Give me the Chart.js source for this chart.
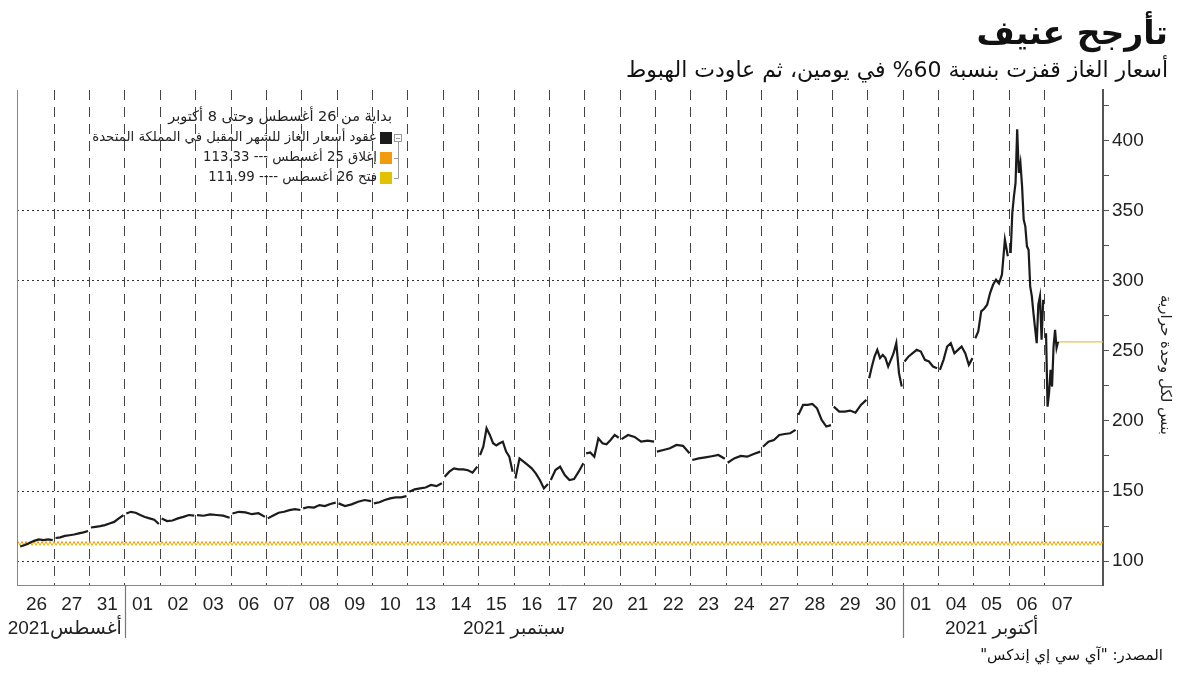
<!DOCTYPE html>
<html lang="ar">
<head>
<meta charset="utf-8">
<script src="https://cdn.jsdelivr.net/npm/chart.js@4.4.0/dist/chart.umd.min.js"></script>
<style>
  html, body { margin: 0; padding: 0; background: #fff; }
  #wrap { position: relative; width: 1200px; height: 675px; }
  #wrap canvas { position: absolute; left: 0; top: 0; }
  .txt { position: absolute; direction: rtl; white-space: nowrap; color: #111; font-family: 'DejaVu Sans', sans-serif; }
  #title { right: 32px; top: 9px; font-size: 33px; font-weight: bold; line-height: 48px; }
  #subtitle { right: 32px; top: 55px; font-size: 22px; line-height: 30px; }
  #source { right: 37px; top: 645px; font-size: 15px; line-height: 20px; }
</style>
</head>
<body>
<div id="wrap">
  <canvas id="chart" width="1200" height="675"></canvas>
  <div class="txt" id="title">تأرجح عنيف</div>
  <div class="txt" id="subtitle">أسعار الغاز قفزت بنسبة 60% في يومين، ثم عاودت الهبوط</div>
  <div class="txt" id="source">المصدر: "آي سي إي إندكس"</div>
</div>
<script>
// trading days shown on the axis
const dayLabels = ['26', '27', '31', '01', '02', '03', '06', '07', '08', '09', '10', '13', '14', '15', '16',
  '17', '20', '21', '22', '23', '24', '27', '28', '29', '30', '01', '04', '05', '06', '07'];

// month names and the day indexes they cover
const monthNames = ['أغسطس2021', 'سبتمبر 2021', 'أكتوبر 2021'];
const monthFrom = [0, 3, 25];
const monthTo = [3, 25, 30];

// intraday prices (pence per therm), one list per trading day
const dayValues = [
  [110.5, 111.5, 113, 114.5, 115.5, 115, 115.5, 115],
  [116.5, 117, 118, 118.5, 119, 119.8, 120.5, 121.5],
  [124, 124.5, 125, 125.7, 126.9, 128, 130.5, 132.9],
  [134, 135.2, 134.5, 132.9, 131.5, 130.5, 129.5, 126.5],
  [130.5, 128.6, 129, 130.5, 131.6, 132.9, 132.5],
  [132.8, 132.4, 133.3, 132.9, 132.5, 131],
  [134, 135.2, 134.8, 133.5, 134.2, 131.6],
  [130.5, 132.5, 134.5, 135.2, 136.4, 137.1, 136.5],
  [137.6, 138.6, 138.2, 140, 139.3, 140.8, 141.7],
  [141.2, 139.3, 140.5, 142.4, 143.6, 142.8],
  [141.2, 142, 143.6, 144.8, 145.5, 145.5, 146.4],
  [149.5, 151.2, 151.9, 152.5, 154.3, 153.5, 155.5],
  [160.2, 163.8, 166.2, 165.5, 165.5, 164.8, 163.1, 167.4],
  [175.7, 181.6, 194.8, 190, 184.1, 182.5, 184.1, 185.2, 178.1, 174.5, 163.8],
  [159, 173.3, 171, 168.6, 166.2, 162.6, 157.9, 151.9, 155],
  [157.9, 165, 167.4, 161.4, 157.9, 158.6, 163.8, 169.8],
  [176.9, 177.5, 174.5, 187.6, 184.1, 183.4, 186.4, 190, 188],
  [187, 190, 188.6, 185.2, 186, 185.2],
  [178.1, 179.3, 180.5, 182.9, 182.2, 176.9],
  [172.1, 173.3, 174, 174.8, 175.7, 173],
  [170.2, 173.3, 175, 174.5, 176.4, 178.1],
  [181.6, 185.2, 186.4, 190, 190.7, 191.2, 193.6],
  [204.3, 211.4, 211.4, 212.1, 209, 200.7, 196, 197],
  [210.2, 206.7, 206.7, 207.4, 205.9, 211.4, 215],
  [230.5, 238.8, 246, 250.7, 244.8, 247.1, 244.8, 238.8, 243.6, 248.3, 255.5, 234, 224.5],
  [242.4, 246, 248.3, 250.7, 249.5, 243.6, 242.4, 238.8, 237.6],
  [236.4, 243.6, 253.1, 255.5, 248.3, 250.7, 253.1, 248.3, 240, 244.8],
  [259, 263.8, 278.1, 280, 282.9, 291.2, 297.1, 300.7, 298, 304.3, 329.3, 317.4],
  [319.8, 348.3, 360.2, 369.8, 407.9, 376.9, 384, 367.4, 343.6, 338.8, 324.5, 322.1, 296, 289,
    276.9, 266, 255.5, 283, 288.8, 258, 286.4],
  [262.6, 210.2, 219.8, 236.4, 224.5, 253.1, 265, 252, 256.4]
];
const lastDayEnd = 0.38; // the last session is only partly shown

const closeAug25 = 113.33;
const openAug26 = 111.99;
const lastPrice = 256.4;

const yTickValues = [100, 125, 150, 175, 200, 225, 250, 275, 300, 325, 350, 375, 400, 425];
const yGridValues = [100, 150, 300, 350];

const legendTitle = 'بداية من 26 أغسطس وحتى 8 أكتوبر';
const legendRows = [
  { label: 'عقود أسعار الغاز للشهر المقبل في المملكة المتحدة', color: '#1b1b1b' },
  { label: 'إغلاق 25 أغسطس --- 113.33', color: '#f29b0c' },
  { label: 'فتح 26 أغسطس ---- 111.99', color: '#e2c100' }
];
const axisTitle = 'بنس لكل وحدة حرارية';

const xMin = -0.05, xMax = 30.65;

// build the price points, breaking the line between sessions
const pricePoints = [];
dayValues.forEach((vals, d) => {
  const from = d + 0.04;
  const to = d + (d === dayValues.length - 1 ? lastDayEnd : 0.96);
  vals.forEach((v, k) => pricePoints.push({ x: from + (to - from) * k / (vals.length - 1), y: v }));
  pricePoints.push({ x: d + 0.98, y: null });
});

const tickFont = { family: "'Liberation Sans', 'DejaVu Sans', sans-serif", size: 19 };

const overlay = {
  id: 'overlay',
  afterDraw(chart) {
    const { ctx, chartArea, scales: { x } } = chart;
    ctx.save();

    // left frame line
    ctx.strokeStyle = '#888';
    ctx.lineWidth = 1;
    ctx.beginPath();
    ctx.moveTo(chartArea.left + 0.5, chartArea.top);
    ctx.lineTo(chartArea.left + 0.5, chartArea.bottom);
    ctx.stroke();

    // month separators and names
    ctx.font = "19px 'Liberation Sans', 'DejaVu Sans', sans-serif";
    ctx.fillStyle = '#222';
    ctx.direction = 'rtl';
    ctx.textBaseline = 'middle';
    monthNames.forEach((name, i) => {
      const a = x.getPixelForValue(monthFrom[i]);
      const b = x.getPixelForValue(monthTo[i]);
      if (i > 0) {
        ctx.strokeStyle = '#777';
        ctx.lineWidth = 1.2;
        ctx.beginPath();
        ctx.moveTo(Math.round(a) + 0.5, chartArea.bottom);
        ctx.lineTo(Math.round(a) + 0.5, chartArea.bottom + 53);
        ctx.stroke();
      }
      const w = ctx.measureText(name).width;
      if (w > b - a - 6) {
        ctx.textAlign = 'right';
        ctx.fillText(name, b - 3, chartArea.bottom + 44);
      } else {
        ctx.textAlign = 'center';
        ctx.fillText(name, (a + b) / 2, chartArea.bottom + 44);
      }
    });

    // legend
    ctx.textAlign = 'right';
    ctx.fillStyle = '#222';
    ctx.font = "14.5px 'DejaVu Sans', sans-serif";
    ctx.fillText(legendTitle, 392, 117);
    ctx.font = "13.3px 'DejaVu Sans', sans-serif";
    legendRows.forEach((r, i) => {
      const yy = 138 + 20 * i;
      ctx.fillStyle = r.color;
      ctx.fillRect(380, yy - 6, 12, 12);
      ctx.fillStyle = '#222';
      ctx.fillText(r.label, 377, yy);
    });
    ctx.strokeStyle = '#999';
    ctx.lineWidth = 1;
    ctx.strokeRect(394.5, 134.5, 7, 7);
    ctx.beginPath();
    ctx.moveTo(396, 138.5); ctx.lineTo(400, 138.5);
    ctx.moveTo(398.5, 142); ctx.lineTo(398.5, 178.5);
    ctx.moveTo(394, 158.5); ctx.lineTo(398.5, 158.5);
    ctx.moveTo(394, 178.5); ctx.lineTo(398.5, 178.5);
    ctx.stroke();

    // y axis title, turned clockwise
    ctx.translate(1165, 365);
    ctx.rotate(Math.PI / 2);
    ctx.font = "15px 'DejaVu Sans', sans-serif";
    ctx.textAlign = 'center';
    ctx.fillStyle = '#222';
    ctx.fillText(axisTitle, 0, 0);
    ctx.restore();
  }
};

new Chart(document.getElementById('chart'), {
  type: 'line',
  data: {
    datasets: [
      {
        label: legendRows[0].label,
        data: pricePoints,
        borderColor: '#1b1b1b',
        borderWidth: 2.2,
        pointRadius: 0,
        tension: 0,
        spanGaps: false
      },
      {
        label: legendRows[1].label,
        data: [{ x: xMin, y: closeAug25 }, { x: xMax, y: closeAug25 }],
        borderColor: '#f29b0c',
        borderWidth: 2,
        borderDash: [2, 2],
        pointRadius: 0
      },
      {
        label: legendRows[2].label,
        data: [{ x: xMin, y: openAug26 }, { x: xMax, y: openAug26 }],
        borderColor: '#e2c100',
        borderWidth: 2,
        borderDash: [2, 2],
        borderDashOffset: 2,
        pointRadius: 0
      },
      {
        label: 'last',
        data: [{ x: 29 + lastDayEnd, y: lastPrice }, { x: xMax, y: lastPrice }],
        borderColor: '#e5c44a',
        borderWidth: 1.3,
        pointRadius: 0
      }
    ]
  },
  options: {
    responsive: false,
    animation: false,
    layout: { padding: { left: 17, top: 90, right: 0, bottom: 0 } },
    plugins: {
      legend: { display: false },
      tooltip: { enabled: false }
    },
    scales: {
      x: {
        type: 'linear',
        position: 'bottom',
        min: xMin,
        max: xMax,
        afterBuildTicks: scale => { scale.ticks = dayLabels.map((_, i) => ({ value: i + 0.5 })); },
        ticks: {
          autoSkip: false,
          maxRotation: 0,
          padding: 8,
          font: tickFont,
          color: '#222',
          callback: (v, i) => dayLabels[i]
        },
        grid: { display: false, drawTicks: false },
        border: { color: '#888', width: 1 },
        afterFit: scale => { scale.height = 90; }
      },
      xg: {
        type: 'linear',
        position: 'bottom',
        min: xMin,
        max: xMax,
        afterBuildTicks: scale => { scale.ticks = dayLabels.slice(1).map((_, i) => ({ value: i + 1 })); },
        ticks: { display: false },
        grid: { color: '#444', lineWidth: 1, drawTicks: false },
        border: { display: false, dash: [10, 7] },
        afterFit: scale => { scale.height = 0; }
      },
      y: {
        type: 'linear',
        position: 'right',
        min: 83,
        max: 436,
        afterBuildTicks: scale => { scale.ticks = yTickValues.map(v => ({ value: v })); },
        ticks: {
          autoSkip: false,
          padding: 3,
          font: tickFont,
          color: '#222',
          callback: v => (v % 50 === 0 ? v : '')
        },
        grid: {
          color: c => (yGridValues.includes(c.tick.value) ? '#333' : 'rgba(0,0,0,0)'),
          tickColor: '#555',
          tickLength: 6,
          tickWidth: 1
        },
        border: { color: '#555', width: 2, dash: [2, 3] },
        afterFit: scale => { scale.width = 97; }
      }
    }
  },
  plugins: [overlay]
});
</script>
</body>
</html>
